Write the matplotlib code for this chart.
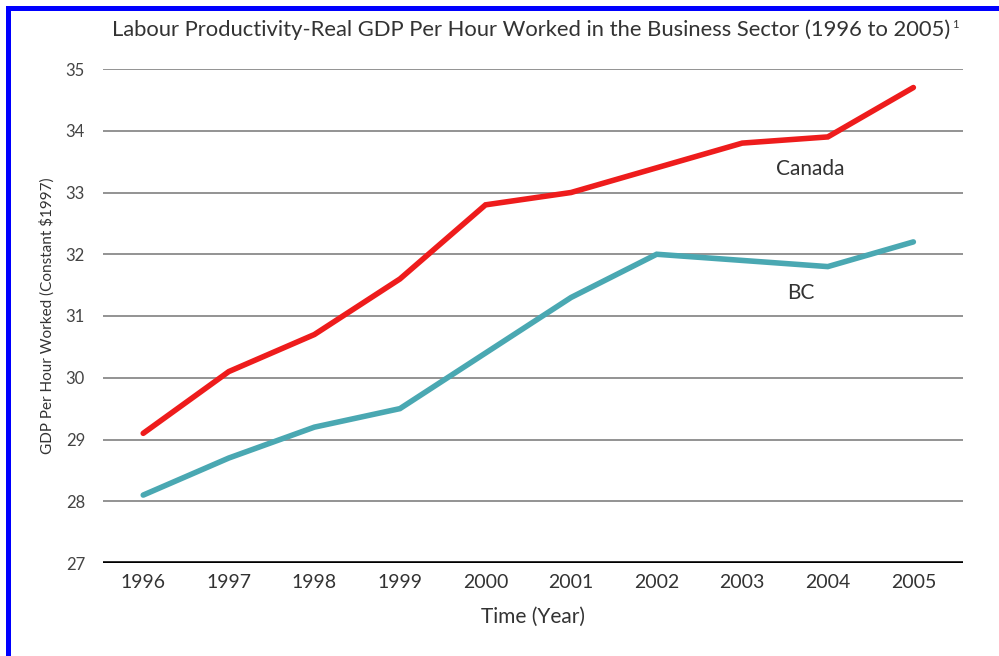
import matplotlib
matplotlib.use("Agg")
import matplotlib.pyplot as plt
from matplotlib.lines import Line2D

years = [1996, 1997, 1998, 1999, 2000, 2001, 2002, 2003, 2004, 2005]
canada = [29.1, 30.1, 30.7, 31.6, 32.8, 33.0, 33.4, 33.8, 33.9, 34.7]
bc = [28.1, 28.7, 29.2, 29.5, 30.4, 31.3, 32.0, 31.9, 31.8, 32.2]
y_ticks = [27, 28, 29, 30, 31, 32, 33, 34, 35]

title = "Labour Productivity-Real GDP Per Hour Worked in the Business Sector (1996 to 2005)"

plt.rcParams['font.family'] = ['Lato', 'DejaVu Sans']

W, H = 999, 656
fig = plt.figure(figsize=(W / 100, H / 100), dpi=100)
ax = fig.add_axes([103 / W, 1 - 563 / H, (963 - 103) / W, (563 - 69) / H])

ax.set_xlim(1995.53, 2005.58)
ax.set_ylim(27, 35)

for v in y_ticks[1:]:
    ax.axhline(v, color="#8a8a8a", lw=1.3, zorder=1)
ax.axhline(27, color="black", lw=2.6, zorder=3)

ax.plot(years, canada, color="#ee1c1c", lw=4.0, solid_capstyle="round",
        solid_joinstyle="miter", zorder=4, clip_on=False)
ax.plot(years, bc, color="#4aa8b2", lw=4.0, solid_capstyle="round",
        solid_joinstyle="miter", zorder=4, clip_on=False)

ax.text(2003.4, 33.38, "Canada", fontsize=15, color="#333333", ha="left", va="center")
ax.text(2003.52, 31.38, "BC", fontsize=15, color="#333333", ha="left", va="center")

for s in ax.spines.values():
    s.set_visible(False)
ax.set_xticks(years)
ax.set_xticklabels([str(y) for y in years], fontsize=14, color="#333333")
ax.set_yticks(y_ticks)
ax.set_yticklabels([str(v) for v in y_ticks], fontsize=12, color="#444444")
ax.tick_params(axis="both", length=0)
ax.tick_params(axis="y", pad=13)
ax.tick_params(axis="x", pad=8)

ax.set_xlabel("Time (Year)", fontsize=15, color="#333333", labelpad=11)
ax.set_ylabel("GDP Per Hour Worked (Constant $1997)", fontsize=11, color="#333333", labelpad=8)

t = fig.text(531 / W, 1 - 30 / H, title, fontsize=15.8, color="#333333", ha="center", va="center")
fig.canvas.draw()
bb = t.get_window_extent()
fig.text(bb.x1 / W + 0.002, 1 - 24 / H, "1", fontsize=8, color="#333333", ha="left", va="center")

# blue frame along the top and left edges
fig.add_artist(Line2D([8 / W, 1.0], [1 - 8 / H, 1 - 8 / H], color="#0000ff", lw=3.6,
                      transform=fig.transFigure, solid_capstyle="projecting"))
fig.add_artist(Line2D([8 / W, 8 / W], [0.0, 1 - 8 / H], color="#0000ff", lw=3.6,
                      transform=fig.transFigure, solid_capstyle="projecting"))

fig.savefig("out.png", dpi=100)
